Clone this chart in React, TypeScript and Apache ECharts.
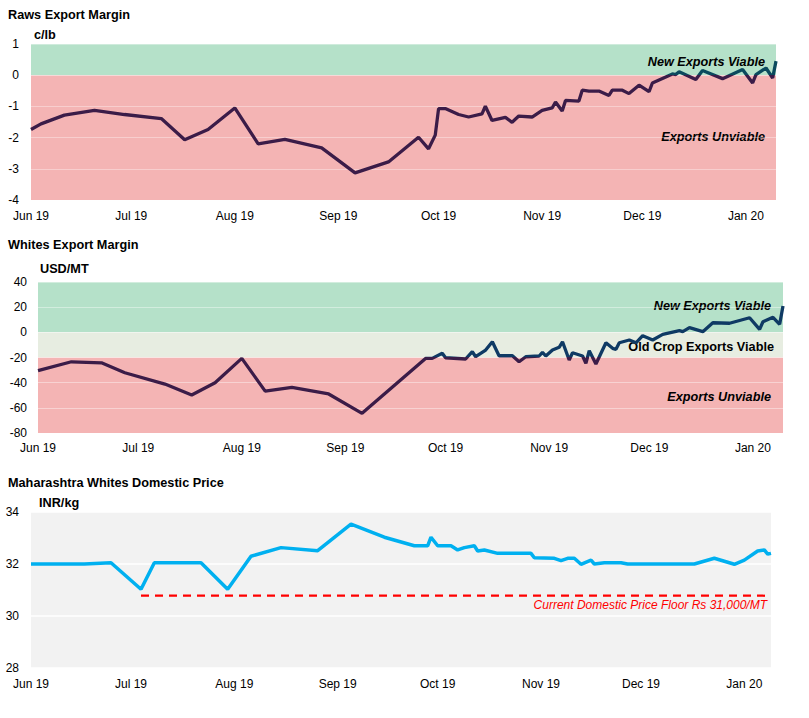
import React, { useEffect, useRef } from "react";
import * as echarts from "echarts";

// ---------- DATA ----------
const xStart = "2019-06-01";
const xEndExport = "2020-01-10";
const xEndDomestic = "2020-01-09";

const rawsDates = [
  "2019-06-01", "2019-06-04", "2019-06-11", "2019-06-20", "2019-06-29", "2019-07-10", "2019-07-17", "2019-07-24",
  "2019-08-01", "2019-08-08", "2019-08-16", "2019-08-27", "2019-09-06", "2019-09-16", "2019-09-25", "2019-09-28",
  "2019-09-30", "2019-10-01", "2019-10-03", "2019-10-07", "2019-10-10", "2019-10-14", "2019-10-15", "2019-10-17",
  "2019-10-21", "2019-10-23", "2019-10-25", "2019-10-29", "2019-11-01", "2019-11-04", "2019-11-05", "2019-11-07",
  "2019-11-08", "2019-11-12", "2019-11-13", "2019-11-15", "2019-11-18", "2019-11-21", "2019-11-22", "2019-11-25",
  "2019-11-27", "2019-11-30", "2019-12-03", "2019-12-04", "2019-12-08", "2019-12-10", "2019-12-11", "2019-12-12",
  "2019-12-17", "2019-12-19", "2019-12-25", "2019-12-31", "2020-01-03", "2020-01-04", "2020-01-07", "2020-01-09",
  "2020-01-10",
];
const rawsValues = [
  -1.74, -1.56, -1.28, -1.13, -1.26, -1.39, -2.07, -1.74,
  -1.05, -2.2, -2.06, -2.33, -3.13, -2.78, -1.99, -2.36,
  -1.92, -1.07, -1.07, -1.26, -1.34, -1.24, -0.99, -1.45,
  -1.35, -1.51, -1.31, -1.34, -1.13, -1.05, -0.86, -1.15,
  -0.81, -0.83, -0.48, -0.51, -0.51, -0.65, -0.48, -0.48,
  -0.59, -0.32, -0.53, -0.25, -0.06, 0.04, 0.02, 0.11,
  -0.14, 0.15, -0.11, 0.18, -0.25, 0.02, 0.23, -0.09,
  0.45,
];

const whitesDates = [
  "2019-06-01", "2019-06-11", "2019-06-20", "2019-06-27", "2019-07-09", "2019-07-17", "2019-07-24", "2019-08-01",
  "2019-08-08", "2019-08-16", "2019-08-27", "2019-09-06", "2019-09-25", "2019-09-27", "2019-09-30", "2019-10-01",
  "2019-10-07", "2019-10-09", "2019-10-10", "2019-10-13", "2019-10-15", "2019-10-17", "2019-10-21", "2019-10-23",
  "2019-10-25", "2019-10-29", "2019-10-30", "2019-10-31", "2019-11-02", "2019-11-04", "2019-11-05", "2019-11-07",
  "2019-11-08", "2019-11-11", "2019-11-12", "2019-11-13", "2019-11-15", "2019-11-18", "2019-11-20", "2019-11-21",
  "2019-11-22", "2019-11-25", "2019-11-27", "2019-11-29", "2019-12-02", "2019-12-05", "2019-12-10", "2019-12-11",
  "2019-12-13", "2019-12-17", "2019-12-20", "2019-12-25", "2019-12-31", "2020-01-03", "2020-01-04", "2020-01-07",
  "2020-01-09", "2020-01-10",
];
const whitesValues = [
  -30.5, -23.4, -24.2, -32.1, -41.1, -49.8, -40, -20.7,
  -46.7, -43.7, -49, -64.4, -20.7, -20.7, -16.7, -20.2,
  -21.2, -15.4, -19.4, -14.1, -7.5, -18.6, -18.6, -23.4,
  -19.4, -18.8, -15.9, -18.8, -14.1, -11.9, -7.5, -22,
  -16.2, -18.8, -24.6, -14.6, -25.2, -8.3, -12.7, -13.5,
  -8.3, -6.1, -8.3, -2.7, -6.1, -1.6, 1.3, 0.5,
  3.7, 0.5, 7.6, 7.2, 11.6, 2.4, 8.4, 11.9,
  6.4, 20.9,
];

const domesticDates = [
  "2019-06-01", "2019-06-17", "2019-06-25", "2019-07-04", "2019-07-08", "2019-07-22", "2019-07-30", "2019-08-06",
  "2019-08-15", "2019-08-26", "2019-09-05", "2019-09-15", "2019-09-24", "2019-09-28", "2019-09-29", "2019-10-01",
  "2019-10-05", "2019-10-07", "2019-10-09", "2019-10-12", "2019-10-13", "2019-10-15", "2019-10-19", "2019-10-29",
  "2019-10-30", "2019-11-05", "2019-11-07", "2019-11-09", "2019-11-11", "2019-11-13", "2019-11-16", "2019-11-17",
  "2019-11-20", "2019-11-25", "2019-11-27", "2019-12-17", "2019-12-23", "2019-12-29", "2020-01-01", "2020-01-05",
  "2020-01-07", "2020-01-08", "2020-01-09",
];
const domesticValues = [
  32.0, 32.0, 32.05, 31.03, 32.05, 32.05, 31.03, 32.3,
  32.63, 32.51, 33.53, 33.03, 32.7, 32.7, 33.03, 32.7,
  32.7, 32.54, 32.63, 32.7, 32.5, 32.54, 32.41, 32.41,
  32.24, 32.22, 32.13, 32.22, 32.22, 31.99, 32.15, 32.0,
  32.05, 32.05, 32.0, 32.0, 32.22, 31.99, 32.15, 32.5,
  32.54, 32.38, 32.41,
];

const floorDates = ["2019-07-04", "2020-01-09"];
const floorValue = 30.78;

// value thresholds of the shaded zones
const rawsViable = [0, 1];
const rawsUnviable = [-4, 0];
const whitesNewViable = [0, 40];
const whitesOldViable = [-20, 0];
const whitesUnviable = [-80, -20];
const rawsThreshold = 0;
const whitesThreshold = -20;

const rawsYRange = [-4, 1];
const whitesYRange = [-80, 40];
const domesticYRange = [28, 34];

const MONTHS = ["Jan", "Feb", "Mar", "Apr", "May", "Jun", "Jul", "Aug", "Sep", "Oct", "Nov", "Dec"];

// ---------- STYLE ----------
const FONT = "'Liberation Sans', Arial, sans-serif";
const GREEN = "#b5e1c9";
const RED = "#f4b4b4";
const OLD = "#e7ede1";
const PURPLE = "#3b1c48";
const TEAL = "#0b4a5e";
const NAVY = "#0f3a64";
const BLUE = "#00b0f0";
const DAY = 86400000;

function ts(s: string): number {
  const [y, m, d] = s.split("-").map(Number);
  return new Date(y, m - 1, d).getTime();
}

function pairs(dates: string[], values: number[]) {
  return dates.map((d, i) => [ts(d), values[i]]);
}

function monthLabel(v: number): string {
  const d = new Date(v);
  return MONTHS[d.getMonth()] + " " + String(d.getFullYear()).slice(2);
}

function xAxis(gridIndex: number, end: string, margin: number) {
  return {
    type: "time",
    gridIndex,
    min: ts(xStart),
    max: ts(end),
    minInterval: 28 * DAY,
    maxInterval: 31 * DAY,
    axisLine: { show: false },
    axisTick: { show: false },
    splitLine: { show: false },
    axisLabel: {
      formatter: (v: number) => monthLabel(v),
      color: "#000",
      fontSize: 12,
      fontFamily: FONT,
      margin,
      hideOverlap: false,
    },
  };
}

function band(range: number[], color: string) {
  return [
    { yAxis: range[0], itemStyle: { color, opacity: 1 } },
    { yAxis: range[1] },
  ];
}

function text(x: number, y: number, t: string, opts: any = {}) {
  return {
    type: "text",
    x,
    y,
    silent: true,
    style: {
      text: t,
      fill: opts.fill || "#000",
      fontSize: opts.fontSize || 12.7,
      fontWeight: opts.fontWeight || "bold",
      fontStyle: opts.fontStyle || "normal",
      fontFamily: FONT,
      textAlign: opts.align || "left",
      textVerticalAlign: "middle",
    },
  };
}

export default function App() {
  const ref = useRef<HTMLDivElement>(null);

  useEffect(() => {
    if (!ref.current) return;
    const chart = echarts.init(ref.current, undefined, { renderer: "svg" });

    const yLabel = (margin: number) => ({ color: "#000", fontSize: 12, fontFamily: FONT, margin });

    const option: any = {
      animation: false,
      backgroundColor: "#fff",
      grid: [
        { left: 31, right: 33, top: 44, height: 156 },
        { left: 38, right: 26, top: 282, height: 151 },
        {
          left: 31, right: 38, top: 512, height: 156,
          show: true, backgroundColor: "#f2f2f2", borderWidth: 0,
        },
      ],
      xAxis: [xAxis(0, xEndExport, 10), xAxis(1, xEndExport, 9), xAxis(2, xEndDomestic, 10)],
      yAxis: [
        {
          type: "value", gridIndex: 0, min: rawsYRange[0], max: rawsYRange[1], interval: 1,
          axisLine: { show: false }, axisTick: { show: false },
          axisLabel: yLabel(12),
          splitLine: { lineStyle: { color: "rgba(255,255,255,0.35)", width: 1 } },
        },
        {
          type: "value", gridIndex: 1, min: whitesYRange[0], max: whitesYRange[1], interval: 20,
          axisLine: { show: false }, axisTick: { show: false },
          axisLabel: yLabel(11),
          splitLine: { lineStyle: { color: "rgba(255,255,255,0.4)", width: 1 } },
        },
        {
          type: "value", gridIndex: 2, min: domesticYRange[0], max: domesticYRange[1], interval: 2,
          axisLine: { show: false }, axisTick: { show: false },
          axisLabel: yLabel(12),
          splitLine: { lineStyle: { color: "#ffffff", width: 1.5 } },
        },
      ],
      visualMap: [
        {
          type: "piecewise", show: false, seriesIndex: 1, dimension: 1,
          pieces: [
            { gte: rawsYRange[0] - 10, lt: rawsThreshold, color: PURPLE },
            { gte: rawsThreshold, lte: rawsYRange[1] + 10, color: TEAL },
          ],
        },
        {
          type: "piecewise", show: false, seriesIndex: 3, dimension: 1,
          pieces: [
            { gte: whitesYRange[0] - 100, lt: whitesThreshold, color: PURPLE },
            { gte: whitesThreshold, lte: whitesYRange[1] + 100, color: NAVY },
          ],
        },
      ],
      series: [
        {
          type: "line", xAxisIndex: 0, yAxisIndex: 0, data: [], z: -1, silent: true,
          markArea: { silent: true, z: -1, data: [band(rawsViable, GREEN), band(rawsUnviable, RED)] },
        },
        {
          type: "line", xAxisIndex: 0, yAxisIndex: 0, data: pairs(rawsDates, rawsValues),
          symbol: "none", lineStyle: { width: 3.3 }, z: 5,
        },
        {
          type: "line", xAxisIndex: 1, yAxisIndex: 1, data: [], z: -1, silent: true,
          markArea: {
            silent: true, z: -1,
            data: [band(whitesNewViable, GREEN), band(whitesOldViable, OLD), band(whitesUnviable, RED)],
          },
        },
        {
          type: "line", xAxisIndex: 1, yAxisIndex: 1, data: pairs(whitesDates, whitesValues),
          symbol: "none", lineStyle: { width: 3.3 }, z: 5,
        },
        {
          type: "line", xAxisIndex: 2, yAxisIndex: 2, data: pairs(domesticDates, domesticValues),
          symbol: "none", lineStyle: { width: 3.5, color: BLUE }, itemStyle: { color: BLUE }, z: 5,
        },
        {
          type: "line", xAxisIndex: 2, yAxisIndex: 2,
          data: floorDates.map((d) => [ts(d), floorValue]),
          symbol: "none", lineStyle: { width: 2.2, color: "#ff0000", type: [8, 6] }, itemStyle: { color: "#ff0000" }, z: 4,
        },
      ],
      graphic: [
        text(8, 15, "Raws Export Margin"),
        text(34, 35, "c/lb"),
        text(765, 62, "New Exports Viable", { fontStyle: "italic", align: "right" }),
        text(765, 137, "Exports Unviable", { fontStyle: "italic", align: "right" }),

        text(8, 245, "Whites Export Margin"),
        text(40, 269, "USD/MT"),
        text(771, 306, "New Exports Viable", { fontStyle: "italic", align: "right" }),
        text(774, 347, "Old Crop Exports Viable", { align: "right" }),
        text(771, 397, "Exports Unviable", { fontStyle: "italic", align: "right" }),

        text(8, 483, "Maharashtra Whites Domestic Price"),
        text(39, 503, "INR/kg"),
        text(767, 605, "Current Domestic Price Floor Rs 31,000/MT", {
          fontStyle: "italic", fontWeight: "normal", fontSize: 12, fill: "#ff0000", align: "right",
        }),
      ],
    };

    chart.setOption(option);
    return () => chart.dispose();
  }, []);

  return (
    <div
      ref={ref}
      style={{ position: "absolute", left: 0, top: 0, width: 809, height: 718 }}
    />
  );
}
